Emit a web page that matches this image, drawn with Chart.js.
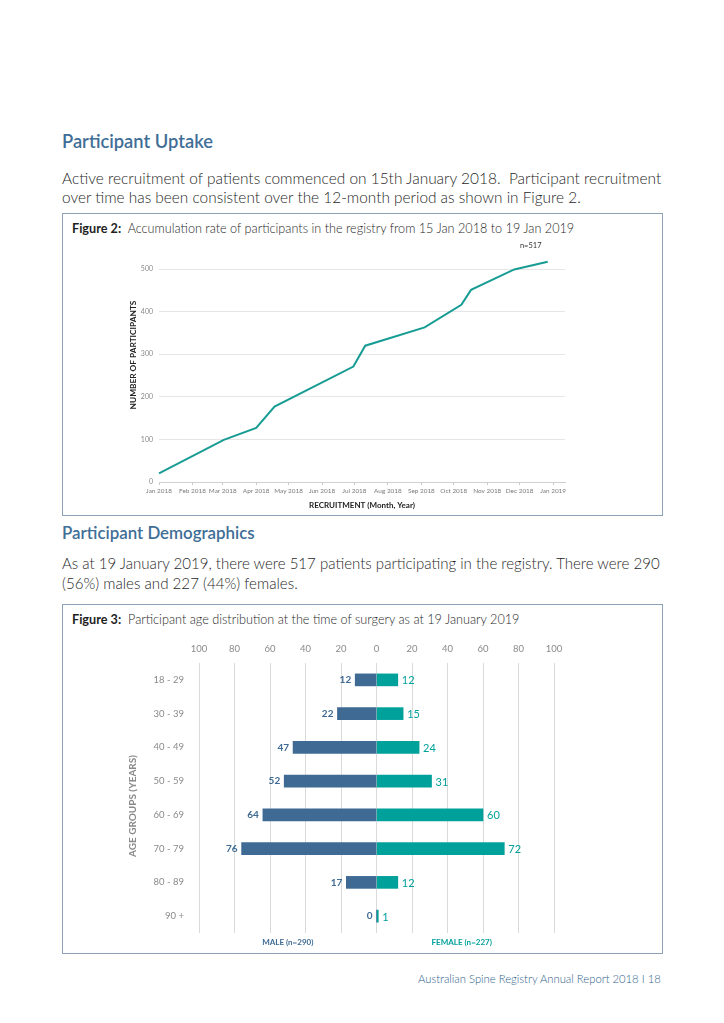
<!DOCTYPE html>
<html><head><meta charset="utf-8">
<script src="https://cdn.jsdelivr.net/npm/chart.js@4.4.1/dist/chart.umd.min.js"></script>
<style>
html,body{margin:0;padding:0;background:#fff;}
body{width:724px;height:1023px;position:relative;overflow:hidden;font-family:Lato,"Open Sans",sans-serif;color:#3a3a3a;}
.t{position:absolute;white-space:nowrap;line-height:20px;height:20px;}
.h{font-weight:600;color:#3f6e96;font-size:16px;}
.p{font-size:15px;color:#1f1f1f;font-weight:300;}
.f{font-size:12px;color:#1f1f1f;font-weight:300;}
.f b{font-weight:700;}
.box{position:absolute;border:1px solid #8ea2b6;box-sizing:border-box;}
canvas{position:absolute;}
</style></head>
<body>
<div class="t h fit" data-w="151" style="left:62px;top:131px;">Participant Uptake</div>
<div class="t p fit" data-w="600" style="left:62px;top:168px;">Active recruitment of patients commenced on 15th January 2018.&nbsp; Participant recruitment</div>
<div class="t p fit" data-w="519" style="left:62px;top:187px;">over time has been consistent over the 12-month period as shown in Figure 2.</div>
<div class="box" style="left:62px;top:213px;width:601px;height:303px;"></div>
<div class="t f fit" data-w="503" style="left:72px;top:218px;"><b>Figure 2:</b>&nbsp; Accumulation rate of participants in the registry from 15 Jan 2018 to 19 Jan 2019</div>
<canvas id="c1" width="598" height="276" style="left:63px;top:238px;"></canvas>

<div class="t h fit" data-w="193" style="left:62px;top:523px;">Participant Demographics</div>
<div class="t p fit" data-w="598" style="left:62px;top:553px;">As at 19 January 2019, there were 517 patients participating in the registry. There were 290</div>
<div class="t p fit" data-w="236" style="left:62px;top:573px;">(56%) males and 227 (44%) females.</div>
<div class="box" style="left:62px;top:604px;width:601px;height:350px;"></div>
<div class="t f fit" data-w="448" style="left:72px;top:609px;"><b>Figure 3:</b>&nbsp; Participant age distribution at the time of surgery as at 19 January 2019</div>
<canvas id="c2" width="598" height="322" style="left:63px;top:630px;"></canvas>

<div class="t fit" data-w="243" style="left:418px;top:969px;font-size:12px;color:#2f5f8c;font-weight:300;">Australian Spine Registry Annual Report 2018 I 18</div>

<script>
// ---------- DATA ----------
const recruitDates  = ['2018-01-01','2018-03-02','2018-04-01','2018-04-18','2018-06-30','2018-07-11','2018-09-04','2018-10-08','2018-10-17','2018-11-26','2018-12-27'];
const recruitCounts = [20, 99, 127, 177, 271, 320, 363, 416, 451, 499, 517];
const monthStarts   = ['2018-01-01','2018-02-01','2018-03-01','2018-04-01','2018-05-01','2018-06-01','2018-07-01','2018-08-01','2018-09-01','2018-10-01','2018-11-01','2018-12-01','2019-01-01'];
const monthLabels   = ['Jan 2018','Feb 2018','Mar 2018','Apr 2018','May 2018','Jun 2018','Jul 2018','Aug 2018','Sep 2018','Oct 2018','Nov 2018','Dec 2018','Jan 2019'];

const ageGroups    = ['18 - 29','30 - 39','40 - 49','50 - 59','60 - 69','70 - 79','80 - 89','90 +'];
const maleCounts   = [12, 22, 47, 52, 64, 76, 17, 0];
const femaleCounts = [12, 15, 24, 31, 60, 72, 12, 1];

// ---------- text fitting ----------
document.querySelectorAll('.fit').forEach(el=>{
  const target = +el.dataset.w;
  const fs = parseFloat(getComputedStyle(el).fontSize);
  const w = el.getBoundingClientRect().width;
  if (w>0) el.style.fontSize = (fs*target/w).toFixed(3)+'px';
});

const DAY = 86400000;
const base = Date.parse('2018-01-01');
const toDay = d => (Date.parse(d)-base)/DAY;
const FONT = 'Lato, "Open Sans", sans-serif';
Chart.defaults.font.family = FONT;

function rotatedTitle(ctx, text, x, y, font, color){
  ctx.save();
  ctx.translate(x, y);
  ctx.rotate(-Math.PI/2);
  ctx.font = font; ctx.fillStyle = color;
  ctx.textAlign='center'; ctx.textBaseline='middle';
  ctx.fillText(text, 0, 0);
  ctx.restore();
}

// ---------- Figure 2 ----------
const nLabel = {
  id:'nLabel',
  afterDatasetsDraw(chart){
    const meta = chart.getDatasetMeta(0);
    const pt = meta.data[meta.data.length-1];
    const ctx = chart.ctx;
    ctx.save();
    ctx.font = '7.5px '+FONT;
    ctx.fillStyle = '#333';
    ctx.textAlign='center'; ctx.textBaseline='middle';
    ctx.fillText('n='+recruitCounts[recruitCounts.length-1], pt.x-17, pt.y-16);
    ctx.restore();
    rotatedTitle(ctx, 'NUMBER OF PARTICIPANTS', 70, 117, 'bold 8.3px '+FONT, '#222');
  }
};
new Chart(document.getElementById('c1'), {
  type:'line',
  data:{datasets:[{
    data: recruitDates.map((d,i)=>({x:toDay(d), y:recruitCounts[i]})),
    borderColor:'#179c94', borderWidth:2, pointRadius:0, tension:0, fill:false, clip:false
  }]},
  options:{
    responsive:false, animation:false,
    layout:{padding:{left:61,right:96,top:31,bottom:0}},
    plugins:{legend:{display:false},tooltip:{enabled:false}},
    scales:{
      x:{type:'linear', min:0, max:376,
        afterBuildTicks:s=>{s.ticks = monthStarts.map(d=>({value:toDay(d)}));},
        afterFit:s=>{s.height=32;},
        ticks:{autoSkip:false,maxRotation:0,minRotation:0,padding:2,color:'#7a7a7a',font:{size:6.4},
          callback:(v,i)=>monthLabels[i]},
        grid:{drawOnChartArea:false,tickLength:3,color:'#c8c8c8'},
        border:{display:true,color:'#d0d0d0'},
        title:{display:true,text:'RECRUITMENT (Month, Year)',color:'#222',font:{size:8,weight:'bold'},padding:{top:2,bottom:4}}
      },
      y:{min:0,max:500,
        afterFit:s=>{s.width=35;},
        ticks:{stepSize:100,padding:6,color:'#8a8a8a',font:{size:7}},
        grid:{color:'#e6e6e6',drawTicks:false},
        border:{display:false},
        title:{display:false}
      }
    }
  },
  plugins:[nLabel]
});

// ---------- Figure 3 ----------
const MALE='#3e6a94', FEMALE='#00a09b';
const sum = a=>a.reduce((p,c)=>p+c,0);
const barLabels = {
  id:'barLabels',
  afterDatasetsDraw(chart){
    const ctx = chart.ctx;
    ctx.save();
    ctx.textBaseline='middle';
    chart.getDatasetMeta(0).data.forEach((b,i)=>{
      ctx.font='bold 10px '+FONT; ctx.fillStyle=MALE; ctx.textAlign='right';
      ctx.fillText(String(maleCounts[i]), b.x-4, b.y);
    });
    chart.getDatasetMeta(1).data.forEach((b,i)=>{
      ctx.font='11px '+FONT; ctx.fillStyle=FEMALE; ctx.textAlign='left';
      ctx.fillText(String(femaleCounts[i]), b.x+4, b.y+1);
    });
    const xs = chart.scales.x, yb = chart.chartArea.bottom+9;
    ctx.font='bold 8px '+FONT; ctx.textAlign='center';
    ctx.fillStyle=MALE;   ctx.fillText('MALE (n='+sum(maleCounts)+')', xs.getPixelForValue(-50), yb);
    ctx.fillStyle=FEMALE; ctx.fillText('FEMALE (n='+sum(femaleCounts)+')', xs.getPixelForValue(48), yb);
    ctx.restore();
    rotatedTitle(ctx, 'AGE GROUPS (YEARS)', 70, 176, 'bold 10px '+FONT, '#8a8a8a');
  }
};
new Chart(document.getElementById('c2'), {
  type:'bar',
  data:{labels:ageGroups, datasets:[
    {data:maleCounts.map(v=>-v), backgroundColor:MALE, barThickness:12},
    {data:femaleCounts, backgroundColor:FEMALE, barThickness:12}
  ]},
  options:{
    indexAxis:'y', responsive:false, animation:false,
    layout:{padding:{left:60,right:107,top:13,bottom:19}},
    plugins:{legend:{display:false},tooltip:{enabled:false}},
    scales:{
      x:{position:'top', stacked:true, min:-100, max:100,
        afterFit:s=>{s.height=20;},
        ticks:{stepSize:20,padding:8,color:'#8a8a8a',font:{size:9.5},callback:v=>Math.abs(v)},
        grid:{color:'#dadada',drawTicks:false},
        border:{display:false}
      },
      y:{stacked:true,
        afterFit:s=>{s.width=76;},
        ticks:{padding:7,color:'#8a8a8a',font:{size:9.5}},
        grid:{display:false},
        border:{display:false},
        title:{display:false}
      }
    }
  },
  plugins:[barLabels]
});
</script>
</body></html>
